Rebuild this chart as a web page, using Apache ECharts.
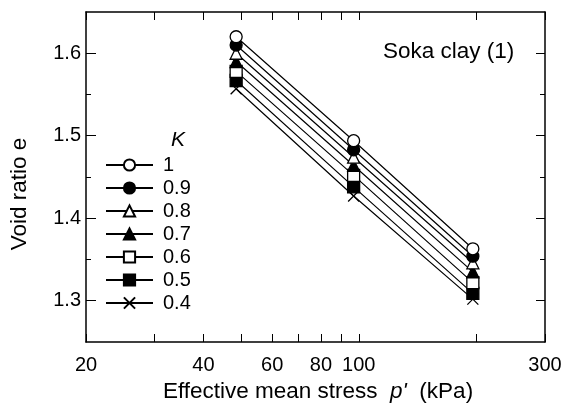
<!DOCTYPE html>
<html>
<head>
<meta charset="utf-8">
<script src="https://cdn.jsdelivr.net/npm/echarts@6/dist/echarts.min.js"></script>
<style>html,body{margin:0;padding:0;background:#fff}#c{width:566px;height:411px}</style>
</head>
<body>
<div id="c"></div>
<script>
// ---- data ----
var stress = [48.5, 97, 196];                       // p' (kPa)
var kNames = ['1', '0.9', '0.8', '0.7', '0.6', '0.5', '0.4'];
var eK10 = [1.620, 1.494, 1.363];
var eK09 = [1.610, 1.483, 1.354];
var eK08 = [1.600, 1.474, 1.346];
var eK07 = [1.590, 1.464, 1.335];
var eK06 = [1.578, 1.452, 1.322];
var eK05 = [1.567, 1.438, 1.309];
var eK04 = [1.557, 1.427, 1.302];
var xLabelTicks = [20, 40, 60, 80, 100, 300];
var xMinorTicks = [20, 30, 40, 50, 60, 70, 80, 90, 100, 200, 300];
var yMajorTicks = [1.3, 1.4, 1.5, 1.6];
var yMinorTicks = [1.35, 1.45, 1.55];

var FONT = "'Liberation Sans', Arial, Helvetica, sans-serif";
var lg = function (v) { return Math.log10(v); };
var xMin = lg(20), xMax = lg(300);

var allE = [eK10, eK09, eK08, eK07, eK06, eK05, eK04];
var symbols = ['circle', 'circle', 'triangle', 'triangle', 'rect', 'rect', 'path://M0,0L12,12M12,0L0,12'];
var fills = ['#fff', '#000', '#fff', '#000', '#fff', '#000', '#000'];

var series = allE.map(function (arr, i) {
  return {
    name: kNames[i],
    type: 'line',
    data: arr.map(function (e, j) { return [lg(stress[j]), e]; }),
    symbol: symbols[i],
    symbolSize: i === 6 ? 11 : 12,
    lineStyle: { color: '#000', width: 1.2 },
    itemStyle: { color: fills[i], borderColor: '#000', borderWidth: 1.3, opacity: 1 },
    z: 10 - i,
    emphasis: { disabled: true },
    animation: false
  };
});

function xAxisDef(pos, showLabel) {
  return {
    type: 'value', position: pos, min: xMin, max: xMax,
    axisLine: { show: true, onZero: false, lineStyle: { color: '#000', width: 1.5 } },
    splitLine: { show: false },
    axisTick: { show: true, inside: true, length: 8, lineStyle: { color: '#000', width: 1 },
      customValues: xMinorTicks.map(lg) },
    axisLabel: { show: showLabel, margin: 13, color: '#000', fontSize: 20, fontFamily: FONT,
      customValues: xLabelTicks.map(lg),
      formatter: function (v) { return String(Math.round(Math.pow(10, v))); } }
  };
}
function yAxisDef(pos, ticks, len, showLine, showLabel) {
  return {
    type: 'value', position: pos, min: 1.25, max: 1.65,
    axisLine: { show: showLine, onZero: false, lineStyle: { color: '#000', width: 1.5 } },
    splitLine: { show: false },
    axisTick: { show: true, inside: true, length: len, lineStyle: { color: '#000', width: 1 },
      customValues: ticks },
    axisLabel: { show: showLabel, margin: 5, color: '#000', fontSize: 20, fontFamily: FONT,
      customValues: yMajorTicks,
      formatter: function (v) { return v.toFixed(1); } }
  };
}

var chart = echarts.init(document.getElementById('c'), null, { renderer: 'canvas' });
chart.setOption({
  animation: false,
  backgroundColor: '#fff',
  grid: { left: 86, right: 21, top: 12, bottom: 69, containLabel: false },
  xAxis: [xAxisDef('bottom', true), xAxisDef('top', false)],
  yAxis: [
    yAxisDef('left', yMajorTicks, 10, true, true),
    yAxisDef('left', yMinorTicks, 5, false, false),
    yAxisDef('right', yMajorTicks, 9, true, false),
    yAxisDef('right', yMinorTicks, 5, false, false)
  ],
  legend: {
    orient: 'vertical', left: 105, top: 155, padding: 0,
    itemWidth: 47, itemHeight: 14, itemGap: 3,
    data: kNames,
    textStyle: { color: '#000', fontSize: 20, fontFamily: FONT, lineHeight: 20, padding: [0, 0, 0, 5] },
    selectedMode: false
  },
  graphic: [
    { type: 'text', left: 171, top: 130,
      style: { text: 'K', fontSize: 21, fontStyle: 'italic', fontFamily: FONT, fill: '#000' } },
    { type: 'text', left: 383, top: 40,
      style: { text: 'Soka clay (1)', fontSize: 22.5, fontFamily: FONT, fill: '#000' } },
    { type: 'text', x: 20, y: 194, rotation: Math.PI / 2,
      style: { text: 'Void ratio e', fontSize: 22.5, fontFamily: FONT, fill: '#000', align: 'center', verticalAlign: 'middle' } },
    { type: 'text', x: 318, y: 392,
      style: { text: "Effective mean stress  {i|p'}  (kPa)", fontSize: 22.5, fontFamily: FONT, fill: '#000',
        align: 'center', verticalAlign: 'middle',
        rich: { i: { fontStyle: 'italic', fontSize: 22.5, fontFamily: FONT, fill: '#000' } } } }
  ],
  series: series
});
</script>
</body>
</html>
